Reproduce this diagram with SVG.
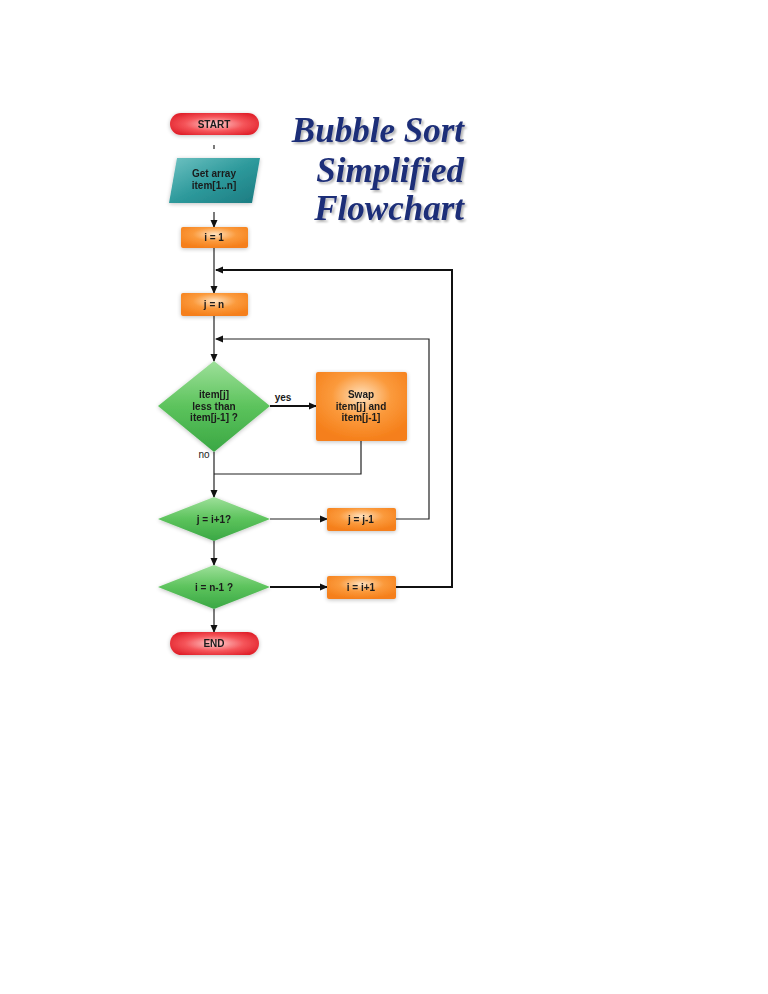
<svg xmlns="http://www.w3.org/2000/svg" width="768" height="994" viewBox="0 0 768 994">
<style>
.lbl{font-family:"Liberation Sans",Arial,sans-serif;font-weight:bold;font-size:10px;fill:#1a1a1a;text-anchor:middle}
.title{font-family:"Liberation Serif","Times New Roman",serif;font-weight:bold;font-style:italic;font-size:35px;fill:#1f2f78;text-anchor:end}
.thin{stroke:#222;stroke-width:1.2;fill:none}
.thick{stroke:#111;stroke-width:2;fill:none}
</style>
<defs>
<radialGradient id="gRed" cx="50%" cy="50%" r="60%">
<stop offset="0" stop-color="#ffd0d0"/><stop offset="0.55" stop-color="#f5555a"/><stop offset="1" stop-color="#e0202a"/>
</radialGradient>
<radialGradient id="gOr" cx="50%" cy="35%" r="65%">
<stop offset="0" stop-color="#ffe2bf"/><stop offset="0.5" stop-color="#fb9a3c"/><stop offset="1" stop-color="#f57f1a"/>
</radialGradient>
<linearGradient id="gGr" x1="0" y1="0" x2="0" y2="1">
<stop offset="0" stop-color="#9ee09a"/><stop offset="0.5" stop-color="#5cc35c"/><stop offset="1" stop-color="#3aa744"/>
</linearGradient>
<linearGradient id="gTe" x1="0" y1="0" x2="1" y2="1">
<stop offset="0" stop-color="#6fc2c2"/><stop offset="0.5" stop-color="#2e9a9c"/><stop offset="1" stop-color="#1b7a80"/>
</linearGradient>
<filter id="sh" x="-20%" y="-30%" width="140%" height="160%">
<feGaussianBlur in="SourceAlpha" stdDeviation="2"/><feOffset dx="0" dy="1"/>
<feComponentTransfer><feFuncA type="linear" slope="0.25"/></feComponentTransfer>
<feMerge><feMergeNode/><feMergeNode in="SourceGraphic"/></feMerge>
</filter>
<filter id="tsh" x="-10%" y="-20%" width="120%" height="140%">
<feOffset in="SourceAlpha" dx="2" dy="2" result="o"/>
<feGaussianBlur in="o" stdDeviation="0.8"/>
<feComponentTransfer><feFuncA type="linear" slope="0.3"/></feComponentTransfer>
<feMerge><feMergeNode/><feMergeNode in="SourceGraphic"/></feMerge>
</filter>
<marker id="ar" markerWidth="8" markerHeight="8" refX="7" refY="4" orient="auto" markerUnits="userSpaceOnUse">
<path d="M0,0.5 L8,4 L0,7.5 Z" fill="#111"/>
</marker>
</defs>
<rect width="768" height="994" fill="#fff"/>

<g id="title" filter="url(#tsh)">
<text class="title" x="464" y="142">Bubble Sort</text>
<text class="title" x="464" y="182">Simplified</text>
<text class="title" x="464" y="220">Flowchart</text>
</g>

<g id="connectors">
<line class="thin" x1="214" y1="145" x2="214" y2="149"/>
<line class="thin" x1="214" y1="212" x2="214" y2="227" marker-end="url(#ar)"/>
<line class="thin" x1="214" y1="248" x2="214" y2="293" marker-end="url(#ar)"/>
<polyline class="thick" points="396,587 452,587 452,270 216,270" marker-end="url(#ar)"/>
<line class="thin" x1="214" y1="316" x2="214" y2="361" marker-end="url(#ar)"/>
<polyline class="thin" points="396,519 429,519 429,339 216,339" marker-end="url(#ar)"/>
<line class="thick" x1="270" y1="406" x2="316" y2="406" marker-end="url(#ar)"/>
<polyline class="thin" points="361,441 361,474 214,474"/>
<line class="thin" x1="214" y1="452" x2="214" y2="497" marker-end="url(#ar)"/>
<line class="thin" x1="270" y1="519" x2="327" y2="519" marker-end="url(#ar)"/>
<line class="thin" x1="214" y1="541" x2="214" y2="565" marker-end="url(#ar)"/>
<line class="thick" x1="270" y1="587" x2="327" y2="587" marker-end="url(#ar)"/>
<line class="thin" x1="214" y1="609" x2="214" y2="632" marker-end="url(#ar)"/>
<text class="lbl" x="283" y="401">yes</text>
<text class="lbl" x="204" y="458" style="font-weight:normal">no</text>
</g>

<g id="start" filter="url(#sh)">
<rect x="170" y="113" width="89" height="22" rx="11" fill="url(#gRed)"/>
<text class="lbl" x="214" y="127.5">START</text>
</g>

<g id="getarray" filter="url(#sh)">
<polygon points="177,158 260,158 252,203 169,203" fill="url(#gTe)"/>
<text class="lbl" x="214" y="177">Get array</text>
<text class="lbl" x="214" y="189">item[1..n]</text>
</g>

<g id="i1" filter="url(#sh)">
<rect x="181" y="227" width="67" height="21" rx="2" fill="url(#gOr)"/>
<text class="lbl" x="214" y="241">i = 1</text>
</g>

<g id="jn" filter="url(#sh)">
<rect x="181" y="293" width="67" height="23" rx="2" fill="url(#gOr)"/>
<text class="lbl" x="214" y="308">j = n</text>
</g>

<g id="cmp" filter="url(#sh)">
<polygon points="214,361 270,406 214,452 158,406" fill="url(#gGr)"/>
<text class="lbl" x="214" y="398">item[j]</text>
<text class="lbl" x="214" y="410">less than</text>
<text class="lbl" x="214" y="421">item[j-1] ?</text>
</g>

<g id="swap" filter="url(#sh)">
<rect x="316" y="372" width="91" height="69" rx="2" fill="url(#gOr)"/>
<text class="lbl" x="361" y="398">Swap</text>
<text class="lbl" x="361" y="410">item[j] and</text>
<text class="lbl" x="361" y="421">item[j-1]</text>
</g>

<g id="jcheck" filter="url(#sh)">
<polygon points="214,497 270,519 214,541 158,519" fill="url(#gGr)"/>
<text class="lbl" x="214" y="523">j = i+1?</text>
</g>

<g id="jdec" filter="url(#sh)">
<rect x="327" y="508" width="69" height="23" rx="2" fill="url(#gOr)"/>
<text class="lbl" x="361" y="523">j = j-1</text>
</g>

<g id="icheck" filter="url(#sh)">
<polygon points="214,565 270,587 214,609 158,587" fill="url(#gGr)"/>
<text class="lbl" x="214" y="591">i = n-1 ?</text>
</g>

<g id="iinc" filter="url(#sh)">
<rect x="327" y="576" width="69" height="23" rx="2" fill="url(#gOr)"/>
<text class="lbl" x="361" y="591">i = i+1</text>
</g>

<g id="end" filter="url(#sh)">
<rect x="170" y="632" width="89" height="23" rx="11.5" fill="url(#gRed)"/>
<text class="lbl" x="214" y="647">END</text>
</g>
</svg>
